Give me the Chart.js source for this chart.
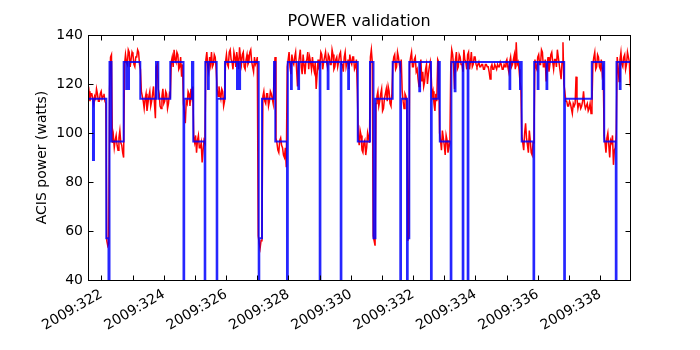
<!DOCTYPE html>
<html><head><meta charset="utf-8">
<script src="https://cdn.jsdelivr.net/npm/chart.js@4"></script>
<style>html,body{margin:0;padding:0;background:#fff}</style>
</head><body>
<canvas id="c" width="700" height="350"></canvas>
<script>
// Model (blue step line): change times (day of 2009) and power level from that time on
const modelTimes = [321.567,321.727,321.759,322.154,322.225,322.257,322.321,322.712,322.793,322.818,322.860,322.883,
  323.245,323.749,323.823,324.208,324.632,324.654,324.904,324.946,325.312,325.331,325.418,325.443,325.697,325.716,
  325.963,326.349,326.374,326.422,326.448,327.045,327.064,327.151,327.536,327.578,327.953,327.979,328.082,328.107,
  328.316,328.341,329.003,329.025,329.259,329.285,329.677,329.699,329.917,329.943,330.225,330.617,330.729,330.793,
  331.345,331.589,331.612,331.804,331.827,331.878,332.199,332.225,332.574,332.597,332.809,332.857,333.207,333.229,
  333.335,333.361,333.592,333.614,333.752,333.775,335.094,335.119,335.431,335.456,335.485,335.864,335.886,335.999,
  336.024,336.281,336.307,336.849,336.872,337.735,338.088,338.110,338.133,338.505,338.528,338.634,338.659,338.961];
const modelPower = [114,89,114,57,0,129,96.5,129,118,129,118,129,
  114,129,114,129,0,114,129,96.5,0,129,118,129,0,114,
  129,118,129,118,129,0,57,114,129,96.5,0,129,118,129,
  118,129,0,129,118,129,0,129,118,129,96.5,129,57,114,
  129,0,114,0,57,129,117,129,0,114,129,96.5,0,129,
  117,129,0,129,0,129,118,129,118,129,96.5,0,129,118,
  129,118,129,0,114,129,118,129,96.5,0,129,118,129,129];

// Telemetry (red): sampled every telemStep days from telemStart
const telemStart = 321.57;
const telemStep = 0.03;
const telemPower = [
  115,117,113,116,116,114,112,115,114,118,116,113,113,116,117,114,115,116,113,112,
  56,54,55,118,131,132,96,99,94,97,99,95,93,98,101,96,95,92,90,128,
  132,129,128,134,133,127,130,133,132,128,127,131,131,134,133,128,126,117,115,113,
  110,114,116,109,112,115,117,111,113,116,119,112,106,127,128,118,116,111,110,115,
  118,112,113,117,116,110,112,116,115,129,131,127,134,130,129,133,132,126,127,131,
  123,128,112,108,104,113,112,117,116,111,118,115,119,98,96,99,92,97,99,94,
  94,96,88,93,97,96,130,133,127,125,131,128,133,127,128,132,131,126,118,115,
  119,116,114,118,117,111,113,129,132,128,127,133,134,130,129,126,133,131,127,133,
  130,126,135,131,128,132,133,127,126,130,132,128,129,133,134,129,127,125,131,128,
  129,131,58,55,53,56,57,115,117,113,112,116,116,111,113,117,116,114,112,124,
  131,98,96,93,92,97,98,95,94,91,90,94,86,127,130,133,127,124,132,129,
  128,131,133,126,119,128,131,134,127,124,132,128,124,129,130,133,126,131,129,126,
  131,127,125,129,118,124,130,127,128,133,132,126,129,131,133,129,127,132,131,128,
  128,134,132,126,127,130,131,127,129,132,133,128,128,125,131,133,127,129,130,126,
  132,129,128,131,131,126,127,130,118,99,95,101,99,93,92,96,97,91,94,100,
  98,96,131,134,129,58,56,54,112,115,117,111,113,116,118,109,110,114,116,118,
  113,119,117,112,111,116,128,131,132,126,127,133,131,128,126,130,117,113,110,116,
  115,113,56,58,128,131,133,127,127,130,131,125,126,122,119,127,130,121,125,119,
  121,126,128,120,124,127,129,124,115,117,112,109,116,113,130,129,100,97,93,101,
  98,95,91,99,97,92,94,96,128,134,132,127,118,130,133,126,127,132,131,128,
  128,125,134,130,129,126,132,133,126,129,133,127,128,131,131,128,127,128,129,127,
  127,128,128,126,126,128,128,127,127,125,122,127,128,126,126,128,127,126,128,127,
  127,129,128,126,126,128,127,129,130,127,125,129,131,127,128,130,132,126,137,128,
  129,126,121,118,99,96,93,100,104,98,95,92,101,97,92,91,96,98,130,127,
  126,131,132,128,128,134,133,127,127,130,121,128,131,125,128,132,133,129,126,130,
  130,127,134,131,128,125,122,129,137,120,117,113,113,111,111,113,112,110,108,112,
  111,112,123,114,110,112,112,110,111,113,117,112,110,111,112,109,110,112,108,111,
  128,131,133,126,127,132,131,127,126,130,124,126,99,96,92,98,100,95,90,97,
  96,99,87,93,94,100,131,127,121,130,133,128,127,131,132,126,128,133,131,129,
  119];

const xTickDays = [322,323,324,325,326,327,328,329,330,331,332,333,334,335,336,337,338];
const xTickLabels = ['2009:322','','2009:324','','2009:326','','2009:328','','2009:330','','2009:332','','2009:334','','2009:336','','2009:338'];
const yTicks = [40,60,80,100,120,140];
const yTickLabels = ['40','60','80','100','120','140'];

const modelData = modelTimes.map((t, i) => ({x: t, y: modelPower[i]}));
const telemData = telemPower.map((v, i) => ({x: telemStart + i * telemStep, y: v}));

Chart.defaults.font.family = "'DejaVu Sans', sans-serif";
Chart.defaults.font.size = 14;
Chart.defaults.color = '#000';

const frameTicks = {
  id: 'frameTicks',
  afterDatasetsDraw(chart) {
    const {ctx, chartArea: a, scales: {x, y}} = chart;
    const L = Math.round(a.left) + 0.5, R = Math.round(a.right) + 0.5;
    const T = Math.round(a.top) + 0.5, B = Math.round(a.bottom) + 0.5;
    ctx.save();
    ctx.strokeStyle = '#000';
    ctx.lineWidth = 1;
    ctx.beginPath();
    x.ticks.forEach(t => {
      const p = Math.round(x.getPixelForValue(t.value)) + 0.5;
      ctx.moveTo(p, B); ctx.lineTo(p, B - 5);
      ctx.moveTo(p, T); ctx.lineTo(p, T + 5);
    });
    y.ticks.forEach(t => {
      const p = Math.round(y.getPixelForValue(t.value)) + 0.5;
      ctx.moveTo(L, p); ctx.lineTo(L + 5, p);
      ctx.moveTo(R, p); ctx.lineTo(R - 5, p);
    });
    ctx.stroke();
    ctx.strokeRect(L, T, R - L, B - T);
    ctx.restore();
  }
};

new Chart(document.getElementById('c'), {
  type: 'line',
  data: {
    datasets: [
      {label: 'model', data: modelData, stepped: 'before', borderColor: 'rgba(0,0,255,0.85)', borderWidth: 2,
       pointRadius: 0, fill: false, order: 0, clip: 0},
      {label: 'telemetry', data: telemData, borderColor: '#ff0000', borderWidth: 1.5,
       pointRadius: 0, fill: false, tension: 0, order: 1, clip: 0}
    ]
  },
  options: {
    responsive: false,
    animation: false,
    devicePixelRatio: 1,
    layout: {padding: {left: 0, right: 70, top: 0, bottom: 0}},
    plugins: {
      legend: {display: false},
      tooltip: {enabled: false},
      title: {display: true, text: 'POWER validation', fullSize: false,
              font: {size: 16, weight: 'normal'}, color: '#000', padding: {top: 12, bottom: 3.8}}
    },
    scales: {
      x: {
        type: 'linear', min: 321.567, max: 338.961,
        grid: {display: false, drawTicks: false},
        border: {display: false},
        afterBuildTicks: s => { s.ticks = xTickDays.map(v => ({value: v})); },
        afterFit: s => { s.height = 70; },
        ticks: {autoSkip: false, minRotation: 30, maxRotation: 30, padding: 6,
                callback: (v) => { const i = xTickDays.indexOf(v); return i >= 0 ? xTickLabels[i] : ''; }}
      },
      y: {
        min: 40, max: 140,
        grid: {display: false, drawTicks: false},
        border: {display: false},
        afterBuildTicks: s => { s.ticks = yTicks.map(v => ({value: v})); },
        afterFit: s => { s.width = 88; },
        ticks: {padding: 5, callback: (v) => { const i = yTicks.indexOf(v); return i >= 0 ? yTickLabels[i] : ''; }},
        title: {display: true, text: 'ACIS power (watts)', font: {size: 14}, padding: {top: 33.6, bottom: 0}}
      }
    }
  },
  plugins: [frameTicks]
});
</script>
</body></html>
